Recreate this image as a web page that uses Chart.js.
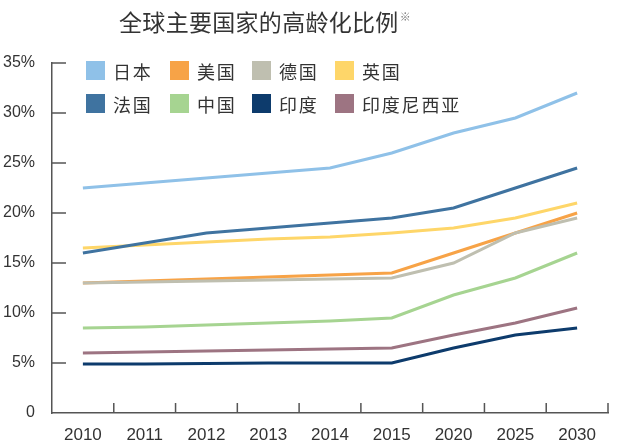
<!DOCTYPE html>
<html>
<head>
<meta charset="utf-8">
<script src="https://cdn.jsdelivr.net/npm/chart.js@4"></script>
<style>
  body { margin: 0; background: #fff; }
  #wrap { position: relative; width: 640px; height: 445px; font-family: "Noto Sans CJK SC", "Liberation Sans", sans-serif; }
  #title { position: absolute; top: 4px; left: 0; width: 530px; text-align: center; font-size: 23px; color: #333; letter-spacing: 0.3px; }
  #title sup { font-size: 11px; color: #777; vertical-align: 10px; margin-left: 1px; }
  #legend { position: absolute; left: 86px; top: 61px; display: grid; grid-template-columns: 84px 82px 83px auto; row-gap: 14px; }
  .item { display: flex; align-items: center; height: 19px; font-size: 18px; color: #333; letter-spacing: 1.8px; white-space: nowrap; }
  .box { width: 19px; height: 19px; margin-right: 8px; flex: none; }
</style>
</head>
<body>
<div id="wrap">
  <canvas id="chart" width="640" height="445"></canvas>
  <div id="title">全球主要国家的高龄化比例<sup>※</sup></div>
  <div id="legend"></div>
</div>
<script>
// data (% of population aged 65+)
const years = ['2010', '2011', '2012', '2013', '2014', '2015', '2020', '2025', '2030'];
const japan     = [22.5, 23.0, 23.5, 24.0, 24.5, 26.0, 28.0, 29.5, 32.0];
const usa       = [13.0, 13.2, 13.4, 13.6, 13.8, 14.0, 16.0, 18.0, 20.0];
const germany   = [13.0, 13.1, 13.2, 13.3, 13.4, 13.5, 15.0, 18.0, 19.5];
const uk        = [16.5, 16.8, 17.1, 17.4, 17.6, 18.0, 18.5, 19.5, 21.0];
const france    = [16.0, 17.0, 18.0, 18.5, 19.0, 19.5, 20.5, 22.5, 24.5];
const china     = [8.5, 8.6, 8.8, 9.0, 9.2, 9.5, 11.8, 13.5, 16.0];
const india     = [4.9, 4.9, 4.95, 5.0, 5.0, 5.0, 6.5, 7.8, 8.5];
const indonesia = [6.0, 6.1, 6.2, 6.3, 6.4, 6.5, 7.8, 9.0, 10.5];
const yTicks = [0, 5, 10, 15, 20, 25, 30, 35];

const series = [
  { label: '日本', data: japan, color: '#8fc1e8' },
  { label: '美国', data: usa, color: '#f7a347' },
  { label: '德国', data: germany, color: '#bfbfb0' },
  { label: '英国', data: uk, color: '#fed669' },
  { label: '法国', data: france, color: '#3f73a0' },
  { label: '中国', data: china, color: '#a6d491' },
  { label: '印度', data: india, color: '#0d3b6c' },
  { label: '印度尼西亚', data: indonesia, color: '#9d7482' }
];

// html legend, 4 per row
const legend = document.getElementById('legend');
series.forEach(s => {
  const el = document.createElement('div');
  el.className = 'item';
  el.innerHTML = '<span class="box" style="background:' + s.color + '"></span>' + s.label;
  legend.appendChild(el);
});

// inward tick marks on both axes
const innerTicks = {
  id: 'innerTicks',
  afterDraw(chart) {
    const ctx = chart.ctx;
    const x = chart.scales.x, y = chart.scales.y;
    ctx.save();
    ctx.strokeStyle = '#555';
    ctx.lineWidth = 1.5;
    ctx.beginPath();
    const n = years.length;
    for (let i = 1; i <= n; i++) {
      const px = x.left + i * (x.right - x.left) / n;
      ctx.moveTo(px, y.bottom);
      ctx.lineTo(px, y.bottom - 10);
    }
    yTicks.forEach(v => {
      if (v === 0) return;
      const py = y.getPixelForValue(v);
      ctx.moveTo(x.left, py);
      ctx.lineTo(x.left + 14, py);
    });
    ctx.stroke();
    ctx.restore();
  }
};

new Chart(document.getElementById('chart'), {
  type: 'line',
  data: {
    labels: years,
    datasets: series.map(s => ({
      label: s.label,
      data: s.data,
      borderColor: s.color,
      backgroundColor: s.color,
      borderWidth: 3,
      pointRadius: 0,
      tension: 0,
      fill: false
    })).reverse()
  },
  options: {
    responsive: false,
    animation: false,
    layout: { padding: { top: 63, right: 32, left: 0, bottom: 0 } },
    plugins: {
      legend: { display: false },
      title: { display: false },
      tooltip: { enabled: false }
    },
    scales: {
      x: {
        offset: true,
        grid: { display: false },
        border: { display: true, color: '#555', width: 1.5 },
        ticks: { color: '#333', font: { family: 'Liberation Sans', size: 17 }, padding: 4, maxRotation: 0 },
        afterFit(s) { s.height = 32; }
      },
      y: {
        min: 0,
        max: 35,
        grid: { display: false },
        border: { display: true, color: '#555', width: 1.5 },
        afterBuildTicks(s) { s.ticks = yTicks.map(v => ({ value: v })); },
        ticks: {
          color: '#333',
          font: { family: 'Liberation Sans', size: 16 },
          padding: 9,
          callback: v => v === 0 ? '0' : v + '%'
        },
        afterFit(s) { s.width = 52; }
      }
    }
  },
  plugins: [innerTicks]
});
</script>
</body>
</html>
